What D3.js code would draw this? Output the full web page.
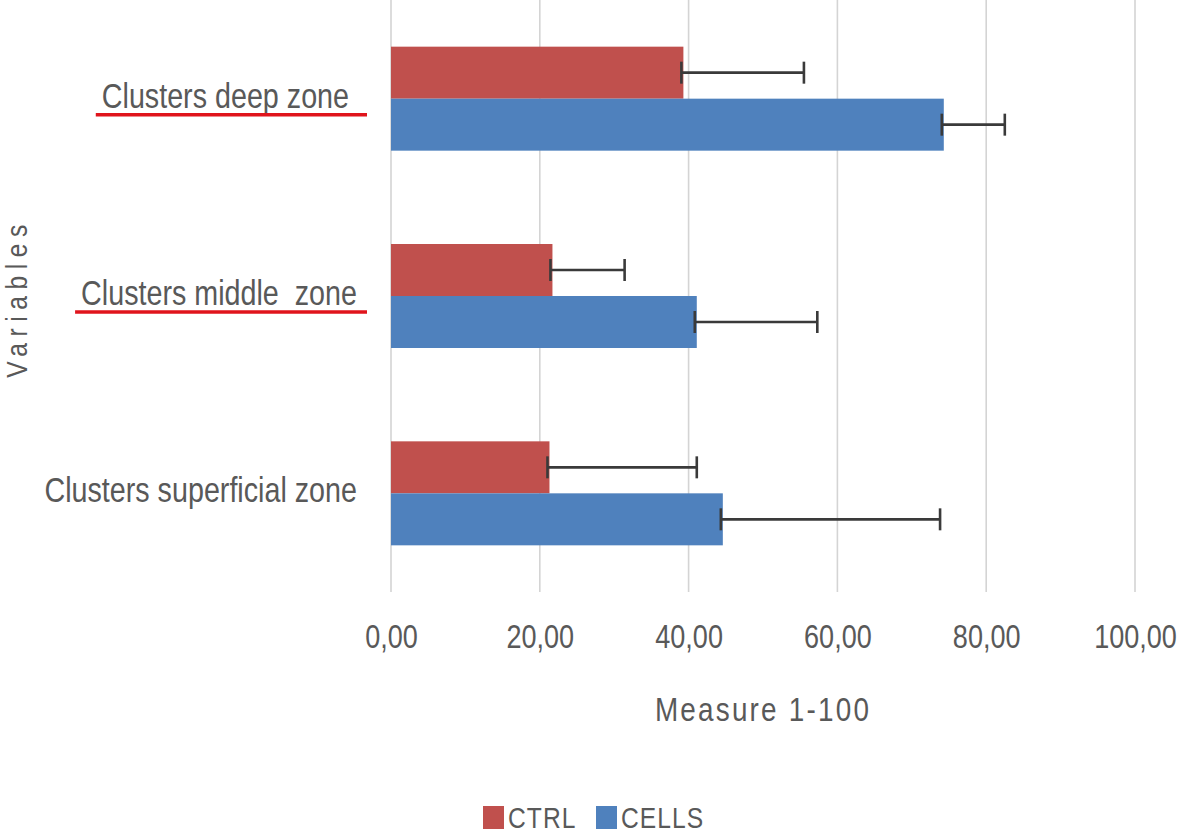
<!DOCTYPE html>
<html>
<head>
<meta charset="utf-8">
<script src="https://cdn.jsdelivr.net/npm/d3@7"></script>
<style>
  html, body { margin: 0; padding: 0; background: #fff; }
  svg text { font-family: "Liberation Sans", Arial, sans-serif; fill: #595959; }
</style>
</head>
<body>
<div id="chart"></div>
<script>
const categories = ['Clusters deep zone ', 'Clusters middle  zone', 'Clusters superficial zone'];
const underlined = [true, true, false];
const seriesNames = ['CTRL', 'CELLS'];
const ctrlValues = [39.3, 21.7, 21.3];
const ctrlErrors = [16.2, 9.7, 19.8];
const cellsValues = [74.3, 41.1, 44.6];
const cellsErrors = [8.2, 16.2, 29.2];
const xTicks = [0, 20, 40, 60, 80, 100];

const colors = { CTRL: '#C0504D', CELLS: '#4F81BD' };
const squeeze = 0.82; // the original text is a narrow face

const width = 1181, height = 836;
const svg = d3.select('#chart').append('svg')
  .attr('width', width)
  .attr('height', height);

const rows = categories.map((c, i) => ({
  cat: c,
  bars: [
    { name: 'CTRL', value: ctrlValues[i], err: ctrlErrors[i] },
    { name: 'CELLS', value: cellsValues[i], err: cellsErrors[i] }
  ]
}));

const x = d3.scaleLinear().domain([0, 100]).range([391, 1135]);
const y = d3.scaleBand().domain(categories).range([0, 592])
  .paddingInner(0.473).paddingOuter(0.2365);
const inner = d3.scaleBand().domain(seriesNames).range([0, y.bandwidth()]);

// gridlines
svg.append('g')
  .selectAll('line')
  .data(xTicks)
  .join('line')
  .attr('x1', d => x(d)).attr('x2', d => x(d))
  .attr('y1', 0).attr('y2', 592)
  .attr('stroke', '#d4d4d4')
  .attr('stroke-width', 1.6);

// x tick labels
const xAxis = svg.append('g')
  .attr('transform', 'translate(0,592)')
  .call(d3.axisBottom(x).tickValues(xTicks).tickSize(0).tickPadding(33)
    .tickFormat(d => d3.format('.2f')(d).replace('.', ',')));
xAxis.select('.domain').remove();
xAxis.selectAll('text')
  .attr('font-size', 33)
  .attr('fill', '#595959')
  .attr('transform', `scale(${squeeze},1)`)
  .style('font-family', null);

// bars
const groups = svg.append('g')
  .selectAll('g')
  .data(rows)
  .join('g')
  .attr('transform', d => `translate(0,${y(d.cat)})`);

groups.selectAll('rect')
  .data(d => d.bars)
  .join('rect')
  .attr('x', x(0))
  .attr('y', d => inner(d.name))
  .attr('width', d => x(d.value) - x(0))
  .attr('height', inner.bandwidth())
  .attr('fill', d => colors[d.name]);

// error bars
const mid = d => inner(d.name) + inner.bandwidth() / 2;
const errG = groups.selectAll('g.err')
  .data(d => d.bars)
  .join('g')
  .attr('class', 'err')
  .attr('stroke', '#3a3a3a')
  .attr('stroke-width', 2.6);
errG.append('line')
  .attr('x1', d => x(d.value) - 2)
  .attr('x2', d => x(d.value + d.err))
  .attr('y1', mid)
  .attr('y2', mid);
errG.append('line')
  .attr('x1', d => x(d.value + d.err))
  .attr('x2', d => x(d.value + d.err))
  .attr('y1', d => mid(d) - 11)
  .attr('y2', d => mid(d) + 11);
errG.append('line')
  .attr('x1', d => x(d.value) - 2)
  .attr('x2', d => x(d.value) - 2)
  .attr('y1', d => mid(d) - 11)
  .attr('y2', d => mid(d) + 11);

// category labels
const labelX = 357;
const labels = svg.append('g')
  .selectAll('text')
  .data(categories)
  .join('text')
  .attr('transform', d => `translate(${labelX},${y(d) + y.bandwidth() / 2 + 9}) scale(${squeeze},1)`)
  .attr('text-anchor', 'end')
  .attr('font-size', 35)
  .style('white-space', 'pre')
  .text(d => d);

// red underlines
labels.each(function (d, i) {
  if (!underlined[i]) return;
  const b = this.getBBox();
  svg.append('line')
    .attr('x1', labelX + b.x * squeeze - 6)
    .attr('x2', labelX + (b.x + b.width) * squeeze + 10)
    .attr('y1', y(d) + y.bandwidth() / 2 + 16)
    .attr('y2', y(d) + y.bandwidth() / 2 + 16)
    .attr('stroke', '#e0141c')
    .attr('stroke-width', 3.5);
});

// axis titles
svg.append('text')
  .attr('transform', `translate(27,298) rotate(-90) scale(${squeeze},1)`)
  .attr('text-anchor', 'middle')
  .attr('font-size', 30)
  .attr('letter-spacing', 8)
  .text('Variables');

svg.append('text')
  .attr('transform', `translate(763,721) scale(${squeeze},1)`)
  .attr('text-anchor', 'middle')
  .attr('font-size', 34)
  .attr('letter-spacing', 2.7)
  .text('Measure 1-100');

// legend
const legend = svg.append('g')
  .selectAll('g')
  .data(seriesNames)
  .join('g')
  .attr('transform', (d, i) => `translate(${483 + i * 113},806)`);
legend.append('rect')
  .attr('width', 21).attr('height', 23)
  .attr('fill', d => colors[d]);
legend.append('text')
  .attr('transform', `translate(25,22) scale(${squeeze},1)`)
  .attr('font-size', 30)
  .attr('letter-spacing', 1.3)
  .text(d => d);
</script>
</body>
</html>
